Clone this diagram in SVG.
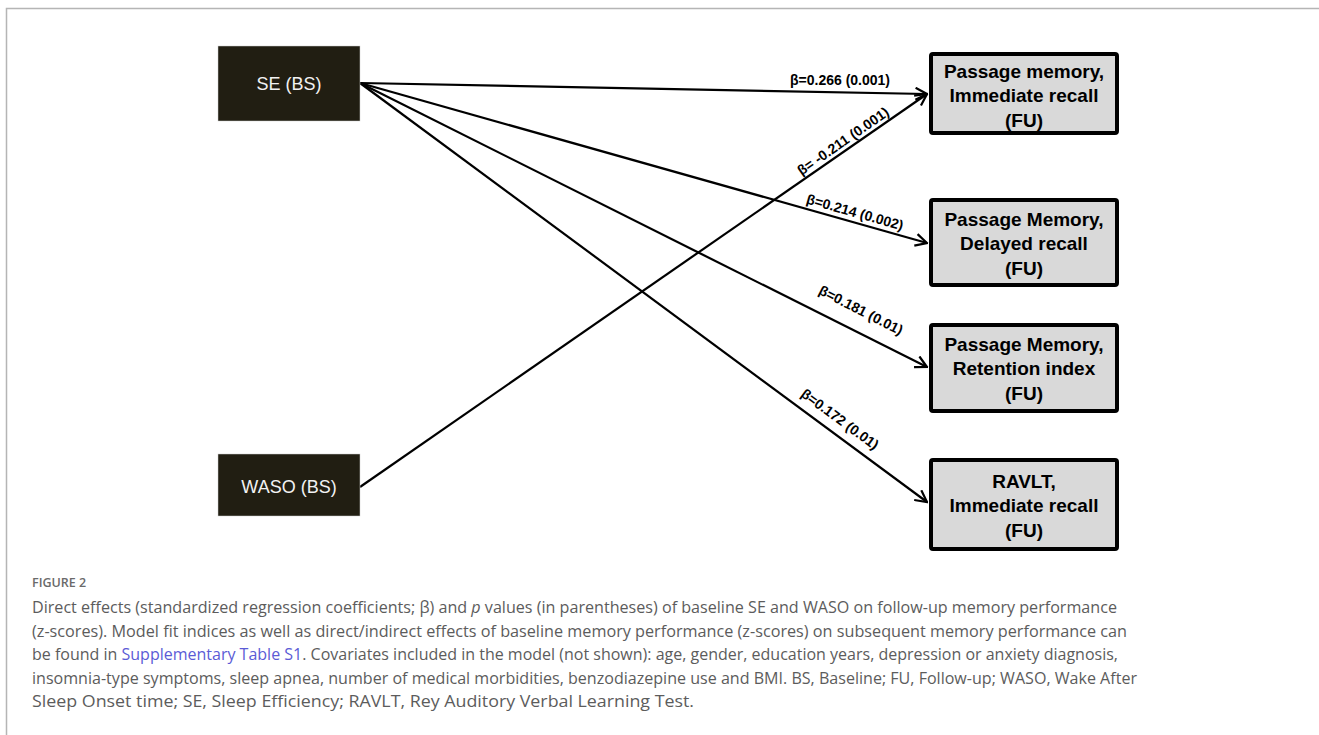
<svg xmlns="http://www.w3.org/2000/svg" width="1319" height="735" viewBox="0 0 1319 735">
<style>
.frame{stroke:#b5b5b5;stroke-width:1.5;fill:none}
.src rect{fill:#211e12;stroke:#cfcfcf;stroke-width:0.5}
.src text{font-family:"Liberation Sans",Arial,sans-serif;font-size:18px;fill:#f2f2f2;text-anchor:middle}
.dst rect{fill:#d9d9d9;stroke:#000;stroke-width:4}
.dst text{font-family:"Liberation Sans",Arial,sans-serif;font-size:19px;font-weight:bold;fill:#000;text-anchor:middle}
.edge{stroke:#000;stroke-width:2.2;fill:none;marker-end:url(#arr)}
.lbl{font-family:"Liberation Sans",Arial,sans-serif;font-size:14px;font-weight:bold;fill:#000;text-anchor:middle}
.cap{font-family:"Open Sans",Lato,sans-serif;font-size:16px;fill:#5c5c5c}
.fig{font-family:"Open Sans",Lato,sans-serif;font-size:12.5px;font-weight:600;fill:#6a6a6a}
</style>
<defs>
<marker id="arr" viewBox="0 0 14 14" refX="12.5" refY="7" markerWidth="14" markerHeight="14" markerUnits="userSpaceOnUse" orient="auto">
<path d="M1,1 L12.5,7 L1,13" fill="none" stroke="#000" stroke-width="2.2"/>
</marker>
</defs>
<rect width="1319" height="735" fill="#fff"/>
<path class="frame" d="M6.5,735 V8.5 H1319"/>

<g id="connectors">
<line class="edge" x1="360" y1="83" x2="927" y2="94"/>
<line class="edge" x1="360" y1="487" x2="927" y2="94"/>
<line class="edge" x1="360" y1="83" x2="927" y2="243"/>
<line class="edge" x1="360" y1="83" x2="927" y2="367"/>
<line class="edge" x1="360" y1="83" x2="927" y2="502"/>
<text class="lbl" x="840" y="85">β=0.266 (0.001)</text>
<text class="lbl" transform="translate(843,141) rotate(-34.7)" x="0" y="5">β= -0.211 (0.001)</text>
<text class="lbl" transform="translate(855,212) rotate(15.8)" x="0" y="5">β=0.214 (0.002)</text>
<text class="lbl" transform="translate(861,310) rotate(27)" x="0" y="5">β=0.181 (0.01)</text>
<text class="lbl" transform="translate(840,419) rotate(36.3)" x="0" y="5">β=0.172 (0.01)</text>
</g>

<g id="node-se" class="src">
<rect x="218" y="46" width="142" height="75"/>
<text x="289" y="90">SE (BS)</text>
</g>
<g id="node-waso" class="src">
<rect x="218" y="454" width="142" height="62"/>
<text x="289" y="493">WASO (BS)</text>
</g>

<g id="node-pm-imm" class="dst">
<rect x="931" y="54" width="186" height="79" rx="2"/>
<text x="1024" y="77.5">Passage memory,</text>
<text x="1024" y="102">Immediate recall</text>
<text x="1024" y="126.5">(FU)</text>
</g>
<g id="node-pm-del" class="dst">
<rect x="931" y="200" width="186" height="85" rx="2"/>
<text x="1024" y="225.5">Passage Memory,</text>
<text x="1024" y="250">Delayed recall</text>
<text x="1024" y="274.5">(FU)</text>
</g>
<g id="node-pm-ret" class="dst">
<rect x="931" y="325" width="186" height="86" rx="2"/>
<text x="1024" y="350.5">Passage Memory,</text>
<text x="1024" y="375">Retention index</text>
<text x="1024" y="399.5">(FU)</text>
</g>
<g id="node-ravlt" class="dst">
<rect x="931" y="460" width="186" height="89" rx="2"/>
<text x="1024" y="487.5">RAVLT,</text>
<text x="1024" y="512">Immediate recall</text>
<text x="1024" y="536.5">(FU)</text>
</g>

<g id="caption">
<text class="fig" x="32" y="587">FIGURE 2</text>
<text class="cap" x="32" y="613" textLength="1085" lengthAdjust="spacingAndGlyphs">Direct effects (standardized regression coefficients; β) and <tspan font-style="italic">p</tspan> values (in parentheses) of baseline SE and WASO on follow-up memory performance</text>
<text class="cap" x="32" y="636.5" textLength="1095" lengthAdjust="spacingAndGlyphs">(z-scores). Model fit indices as well as direct/indirect effects of baseline memory performance (z-scores) on subsequent memory performance can</text>
<text class="cap" x="32" y="660" textLength="1086" lengthAdjust="spacingAndGlyphs">be found in <tspan fill="#5b5bd6">Supplementary Table S1</tspan>. Covariates included in the model (not shown): age, gender, education years, depression or anxiety diagnosis,</text>
<text class="cap" x="32" y="683.5" textLength="1105" lengthAdjust="spacingAndGlyphs">insomnia-type symptoms, sleep apnea, number of medical morbidities, benzodiazepine use and BMI. BS, Baseline; FU, Follow-up; WASO, Wake After</text>
<text class="cap" x="32" y="707" textLength="662" lengthAdjust="spacingAndGlyphs">Sleep Onset time; SE, Sleep Efficiency; RAVLT, Rey Auditory Verbal Learning Test.</text>
</g>
</svg>
